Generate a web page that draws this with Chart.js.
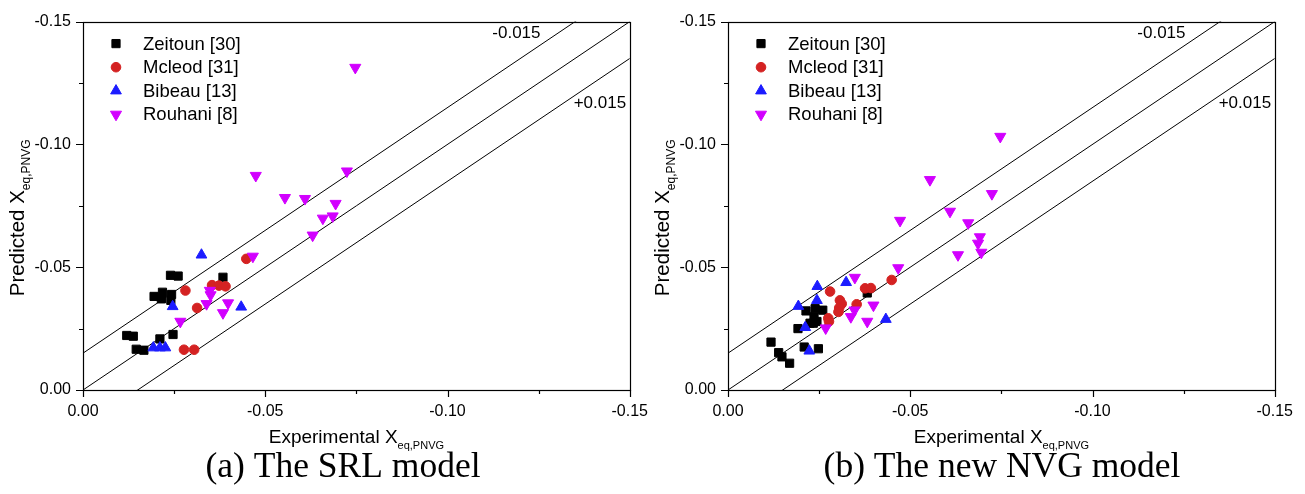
<!DOCTYPE html>
<html>
<head>
<meta charset="utf-8">
<title>Predicted vs experimental X_eq,PNVG</title>
<script src="https://cdn.jsdelivr.net/npm/chart.js@4.4.1/dist/chart.umd.min.js"></script>
<style>
  body { margin: 0; background: #fff; }
  .panel { position: absolute; top: 0; width: 660px; height: 494px; }
  #panelA { left: 0; }
  #panelB { left: 645px; }
</style>
</head>
<body>
<div class="panel" id="panelA"><canvas id="chartA"></canvas></div>
<div class="panel" id="panelB"><canvas id="chartB"></canvas></div>
<script>
// axis ticks (same for x and y)
const tickValues = [0, -0.05, -0.10, -0.15];
const tickLabels = ['0.00', '-0.05', '-0.10', '-0.15'];
const minorTickValues = [-0.025, -0.075, -0.125];

const seriesNames = ['Zeitoun [30]', 'Mcleod [31]', 'Bibeau [13]', 'Rouhani [8]'];
const bandOffsets = [-0.015, 0, 0.015];
const bandLabels = ['-0.015', '+0.015'];

// (a) The SRL model
const zeitounA_exp  = [-0.0120, -0.0138, -0.0146, -0.0167, -0.0211, -0.0247, -0.0195, -0.0218, -0.0215, -0.0243, -0.0241, -0.0240, -0.0261, -0.0384];
const zeitounA_pred = [-0.0222, -0.0219, -0.0166, -0.0162, -0.0208, -0.0226, -0.0381, -0.0398, -0.0371, -0.0389, -0.0365, -0.0467, -0.0464, -0.0459];
const mcleodA_exp   = [-0.0448, -0.0281, -0.0354, -0.0373, -0.0391, -0.0313, -0.0277, -0.0305];
const mcleodA_pred  = [-0.0534, -0.0405, -0.0427, -0.0425, -0.0422, -0.0334, -0.0164, -0.0164];
const bibeauA_exp   = [-0.0325, -0.0246, -0.0434, -0.0193, -0.0211, -0.0226];
const bibeauA_pred  = [-0.0550, -0.0340, -0.0338, -0.0172, -0.0172, -0.0172];
const rouhaniA_exp  = [-0.0466, -0.0348, -0.0350, -0.0339, -0.0398, -0.0384, -0.0267, -0.0474, -0.0554, -0.0609, -0.0693, -0.0724, -0.0658, -0.0685, -0.0630, -0.0747];
const rouhaniA_pred = [-0.0544, -0.0405, -0.0387, -0.0351, -0.0354, -0.0314, -0.0279, -0.0873, -0.0783, -0.0779, -0.0759, -0.0891, -0.0699, -0.0708, -0.0630, -0.1313];

// (b) The new NVG model
const zeitounB_exp  = [-0.0118, -0.0139, -0.0148, -0.0169, -0.0209, -0.0248, -0.0192, -0.0214, -0.0239, -0.0260, -0.0236, -0.0234, -0.0244, -0.0225, -0.0382];
const zeitounB_pred = [-0.0195, -0.0152, -0.0135, -0.0109, -0.0175, -0.0168, -0.0250, -0.0322, -0.0331, -0.0325, -0.0298, -0.0272, -0.0279, -0.0272, -0.0395];
const mcleodB_exp   = [-0.0449, -0.0280, -0.0376, -0.0392, -0.0307, -0.0312, -0.0305, -0.0303, -0.0353, -0.0275, -0.0277];
const mcleodB_pred  = [-0.0448, -0.0401, -0.0414, -0.0415, -0.0365, -0.0351, -0.0334, -0.0318, -0.0349, -0.0292, -0.0279];
const bibeauB_exp   = [-0.0245, -0.0324, -0.0193, -0.0244, -0.0212, -0.0223, -0.0433];
const bibeauB_pred  = [-0.0422, -0.0438, -0.0341, -0.0365, -0.0255, -0.0159, -0.0288];
const rouhaniB_exp  = [-0.0747, -0.0554, -0.0724, -0.0609, -0.0659, -0.0691, -0.0686, -0.0695, -0.0631, -0.0472, -0.0467, -0.0348, -0.0399, -0.0347, -0.0337, -0.0382, -0.0268];
const rouhaniB_pred = [-0.1032, -0.0856, -0.0799, -0.0727, -0.0680, -0.0623, -0.0597, -0.0560, -0.0550, -0.0690, -0.0497, -0.0458, -0.0345, -0.0325, -0.0298, -0.0279, -0.0252];

const SANS = '"Liberation Sans", Arial, sans-serif';
const SERIF = '"Liberation Serif", "Times New Roman", serif';

const markers = [
  { pointStyle: 'rect', radius: 5.8, rotation: 0, color: '#000000' },
  { pointStyle: 'circle', radius: 4.8, rotation: 0, color: '#d42222' },
  { pointStyle: 'triangle', radius: 6.2, rotation: 0, color: '#1c1cff' },
  { pointStyle: 'triangle', radius: 6.4, rotation: 180, color: '#d200ff' }
];

function toPoints(xs, ys) {
  return xs.map((x, i) => ({ x: x, y: ys[i] }));
}

// draws frame, tick marks, legend, titles, band labels and caption
const decor = {
  id: 'decor',
  beforeDatasetsDraw(chart) {
    const ctx = chart.ctx, a = chart.chartArea;
    const xs = chart.scales.x, ys = chart.scales.y;
    ctx.save();
    ctx.strokeStyle = '#000';
    ctx.lineWidth = 1.2;
    ctx.strokeRect(Math.round(a.left) + 0.5, Math.round(a.top) + 0.5, Math.round(a.right - a.left), Math.round(a.bottom - a.top));
    ctx.beginPath();
    tickValues.concat(minorTickValues).forEach(v => {
      const len = tickValues.includes(v) ? 7 : 4;
      const px = Math.round(xs.getPixelForValue(v)) + 0.5;
      ctx.moveTo(px, a.bottom); ctx.lineTo(px, a.bottom + len);
      const py = Math.round(ys.getPixelForValue(v)) + 0.5;
      ctx.moveTo(a.left, py); ctx.lineTo(a.left - len, py);
    });
    ctx.stroke();
    ctx.restore();
  },
  afterDraw(chart, args, opts) {
    const ctx = chart.ctx, a = chart.chartArea;
    const xs = chart.scales.x, ys = chart.scales.y;
    ctx.save();
    ctx.fillStyle = '#000';

    // legend
    ctx.font = '18.5px ' + SANS;
    ctx.textBaseline = 'middle';
    ctx.textAlign = 'left';
    seriesNames.forEach((name, i) => {
      const y = a.top + 22 + i * 23.6;
      const m = markers[i];
      ctx.fillStyle = m.color;
      ctx.strokeStyle = m.color;
      Chart.helpers.drawPoint(ctx, { pointStyle: m.pointStyle, radius: m.radius, rotation: m.rotation, borderWidth: 1 }, a.left + 33, y);
      ctx.fillStyle = '#000';
      ctx.fillText(name, a.left + 60, y + 1);
    });

    // band labels
    ctx.font = '17px ' + SANS;
    ctx.textAlign = 'center';
    ctx.fillText(bandLabels[0], xs.getPixelForValue(-0.1189), ys.getPixelForValue(-0.1452));
    ctx.fillText(bandLabels[1], xs.getPixelForValue(-0.1418), ys.getPixelForValue(-0.1166));

    // axis titles with subscript
    const main = 'Experimental X', yMain = 'Predicted X', sub = 'eq,PNVG';
    ctx.textBaseline = 'alphabetic';
    ctx.textAlign = 'left';
    ctx.font = '19px ' + SANS;
    let w1 = ctx.measureText(main).width;
    ctx.font = '11px ' + SANS;
    let w2 = ctx.measureText(sub).width;
    let x0 = (a.left + a.right) / 2 - (w1 + w2) / 2;
    ctx.font = '19px ' + SANS;
    ctx.fillText(main, x0, 443);
    ctx.font = '11px ' + SANS;
    ctx.fillText(sub, x0 + w1, 449);

    ctx.font = '20.5px ' + SANS;
    w1 = ctx.measureText(yMain).width;
    ctx.font = '12px ' + SANS;
    w2 = ctx.measureText(sub).width;
    ctx.save();
    ctx.translate(24, (a.top + a.bottom) / 2 + 12);
    ctx.rotate(-Math.PI / 2);
    x0 = -(w1 + w2) / 2;
    ctx.font = '20.5px ' + SANS;
    ctx.fillText(yMain, x0, 0);
    ctx.font = '12px ' + SANS;
    ctx.fillText(sub, x0 + w1, 6);
    ctx.restore();

    // caption
    ctx.font = '35.5px ' + SERIF;
    ctx.textAlign = 'center';
    ctx.fillText(opts.caption, opts.captionX, 477);
    ctx.restore();
  }
};

function makeChart(id, groups, caption, captionX) {
  const datasets = [];
  bandOffsets.forEach(off => {
    datasets.push({
      type: 'scatter',
      data: [{ x: 0, y: off }, { x: -0.15, y: -0.15 + off }],
      showLine: true,
      borderColor: '#000',
      borderWidth: 1,
      pointRadius: 0,
      order: 10
    });
  });
  groups.forEach((g, i) => {
    const m = markers[i];
    datasets.push({
      label: seriesNames[i],
      data: toPoints(g[0], g[1]),
      pointStyle: m.pointStyle,
      rotation: m.rotation,
      pointRadius: m.radius,
      pointHoverRadius: m.radius,
      backgroundColor: m.color,
      borderColor: m.color,
      borderWidth: 1,
      order: 4 - i
    });
  });

  const axis = (fit, pad) => ({
    type: 'linear',
    min: -0.15,
    max: 0,
    reverse: true,
    grid: { display: false, drawTicks: false },
    border: { display: false },
    afterBuildTicks: s => { s.ticks = tickValues.map(v => ({ value: v })); },
    afterFit: fit,
    ticks: {
      color: '#000',
      font: { family: SANS, size: 16 },
      padding: pad,
      autoSkip: false,
      maxRotation: 0,
      callback: (v, i) => tickLabels[i]
    }
  });

  return new Chart(document.getElementById(id), {
    type: 'scatter',
    data: { datasets: datasets },
    options: {
      responsive: true,
      maintainAspectRatio: false,
      animation: false,
      layout: { padding: { left: 0, top: 13, right: 29, bottom: 0 } },
      scales: {
        x: axis(s => { s.height = 104; }, 12),
        y: axis(s => { s.width = 83; }, 12)
      },
      plugins: {
        legend: { display: false },
        tooltip: { enabled: false },
        decor: { caption: caption, captionX: captionX }
      }
    },
    plugins: [decor]
  });
}

makeChart('chartA', [
  [zeitounA_exp, zeitounA_pred],
  [mcleodA_exp, mcleodA_pred],
  [bibeauA_exp, bibeauA_pred],
  [rouhaniA_exp, rouhaniA_pred]
], '(a) The SRL model', 343);

makeChart('chartB', [
  [zeitounB_exp, zeitounB_pred],
  [mcleodB_exp, mcleodB_pred],
  [bibeauB_exp, bibeauB_pred],
  [rouhaniB_exp, rouhaniB_pred]
], '(b) The new NVG model', 357);
</script>
</body>
</html>
